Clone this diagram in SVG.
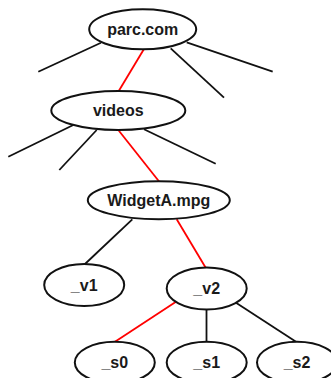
<svg xmlns="http://www.w3.org/2000/svg" width="331" height="378" viewBox="0 0 331 378">
<style>
.n ellipse{fill:#fff;stroke:#111;stroke-width:2}
.n text{font-family:"Liberation Sans",Arial,sans-serif;font-weight:bold;font-size:16px;text-anchor:middle;fill:#1a1a1a}
.e{stroke:#111;stroke-width:1.8;fill:none}
.r{stroke:#f00;stroke-width:1.8;fill:none}
</style>
<rect width="331" height="378" fill="#fff"/>
<g id="connectors">
<line class="e" x1="101" y1="42.7" x2="38.3" y2="71.7"/>
<line class="r" x1="144" y1="49" x2="118.3" y2="91.7"/>
<line class="e" x1="170.7" y1="48.3" x2="224" y2="97.7"/>
<line class="e" x1="186.7" y1="42.3" x2="272.7" y2="71.7"/>
<line class="e" x1="73.3" y1="125" x2="8.3" y2="156.7"/>
<line class="e" x1="96.7" y1="130" x2="59.3" y2="170"/>
<line class="r" x1="118.3" y1="130" x2="159.3" y2="181.7"/>
<line class="e" x1="144" y1="129.3" x2="215.7" y2="163.7"/>
<line class="e" x1="132.3" y1="219.3" x2="85" y2="264"/>
<line class="r" x1="176.7" y1="219.3" x2="206" y2="268.3"/>
<line class="r" x1="176" y1="301.7" x2="115" y2="341.7"/>
<line class="e" x1="206.5" y1="309" x2="206.5" y2="341.7"/>
<line class="e" x1="236" y1="302.7" x2="296" y2="341.7"/>
</g>
<g id="parc" class="n"><ellipse cx="142.7" cy="29.3" rx="53.5" ry="20"/><text x="142.7" y="34.8">parc.com</text></g>
<g id="videos" class="n"><ellipse cx="118.3" cy="110.5" rx="67" ry="19.5"/><text x="118.3" y="116">videos</text></g>
<g id="widgetA" class="n"><ellipse cx="158.8" cy="200.2" rx="71" ry="19"/><text x="158.8" y="205.8">WidgetA.mpg</text></g>
<g id="v1" class="n"><ellipse cx="84.2" cy="285" rx="40" ry="21"/><text x="84.2" y="290.6">_v1</text></g>
<g id="v2" class="n"><ellipse cx="206.7" cy="288.5" rx="40" ry="21"/><text x="206.7" y="294.1">_v2</text></g>
<g id="s0" class="n"><ellipse cx="114.8" cy="362.5" rx="40" ry="20.8"/><text x="114.8" y="368">_s0</text></g>
<g id="s1" class="n"><ellipse cx="206.7" cy="362.5" rx="40" ry="20.8"/><text x="206.7" y="368">_s1</text></g>
<g id="s2" class="n"><ellipse cx="297" cy="362.5" rx="40" ry="20.8"/><text x="297" y="368">_s2</text></g>
</svg>
